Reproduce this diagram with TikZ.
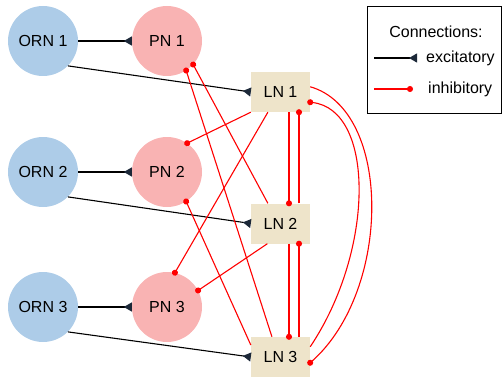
\documentclass[tikz,border=0pt]{standalone}
\usepackage{fontspec}
\setmainfont{Liberation Sans}
\usetikzlibrary{arrows.meta}
\definecolor{ornblue}{RGB}{173,204,232}
\definecolor{pnpink}{RGB}{249,179,179}
\definecolor{lnbeige}{RGB}{238,228,202}
\definecolor{excol}{RGB}{28,40,56}
\begin{document}
\begin{tikzpicture}[x=1pt,y=-1pt,font=\fontsize{16}{19}\selectfont,
  orn/.style={circle, fill=ornblue, minimum size=70pt, inner sep=0pt},
  pn/.style={circle, fill=pnpink, minimum size=70pt, inner sep=0pt},
  ln/.style={rectangle, fill=lnbeige, minimum width=59pt, minimum height=40pt, inner sep=0pt},
  exc/.style={black, line width=1.1pt, -{Triangle[reversed, length=8pt, width=9pt, color=excol]}},
  inh/.style={red, line width=1.1pt, -{Circle[length=6pt]}, shorten >=-3pt},
  legtext/.style={anchor=west, inner sep=2pt}]
\useasboundingbox (0,0) rectangle (502,377);
% nodes
\node[orn] (ORN1) at (43,41) {ORN 1};
\node[pn]  (PN1)  at (167,41) {PN 1};
\node[orn] (ORN2) at (43,172) {ORN 2};
\node[pn]  (PN2)  at (167,172) {PN 2};
\node[orn] (ORN3) at (43,307) {ORN 3};
\node[pn]  (PN3)  at (167,307) {PN 3};
\node[ln]  (LN1)  at (280.5,92) {LN 1};
\node[ln]  (LN2)  at (280.5,223.5) {LN 2};
\node[ln]  (LN3)  at (280.5,357) {LN 3};
% excitatory
\draw[exc] (ORN1) -- (PN1);
\draw[exc] (ORN2) -- (PN2);
\draw[exc] (ORN3) -- (PN3);
\draw[exc] (ORN1.-45) -- (LN1.west);
\draw[exc] (ORN2.-45) -- (LN2.west);
\draw[exc] (ORN3.-45) -- (LN3.west);
% inhibitory to PNs
\draw[inh] (LN1.south west) -- (PN2.55);
\draw[inh] (LN1.238) -- (PN3.77);
\draw[inh] (LN2.122) -- (PN1.-42);
\draw[inh] (LN2.237) -- (PN3.28);
\draw[inh] (LN3.113) -- (PN1.-57);
\draw[inh] (LN3.158) -- (PN2.-57);
% inhibitory between LNs
\draw[inh] ([xshift=8.5pt]LN1.south) -- ([xshift=8.5pt]LN2.north);
\draw[inh] ([xshift=18.5pt]LN2.north) -- ([xshift=18.5pt]LN1.south);
\draw[inh] ([xshift=8.5pt]LN2.south) -- ([xshift=8.5pt]LN3.north);
\draw[inh] ([xshift=18.5pt]LN3.north) -- ([xshift=18.5pt]LN2.south);
\draw[inh] (LN1.10) .. controls (392,110) and (392,290) .. (LN3.-11);
\draw[inh] (LN3.19) .. controls (375,250) and (375,110) .. (LN1.-19);
% legend
\node[draw, line width=0.8pt, minimum width=134pt, minimum height=107pt, inner sep=0pt] (legend) at (434,59.5) {};
\node (legtitle) at (436,32) {Connections:};
\node[legtext] (legexc) at (424,58) {excitatory};
\node[legtext] (leginh) at (426,89) {inhibitory};
\coordinate (exa) at (374,58);
\coordinate (exb) at (417,58);
\coordinate (ina) at (374,89);
\coordinate (inb) at (410,89);
\draw[exc] (exa) -- (exb);
\draw[inh] (ina) -- (inb);
\end{tikzpicture}
\end{document}
